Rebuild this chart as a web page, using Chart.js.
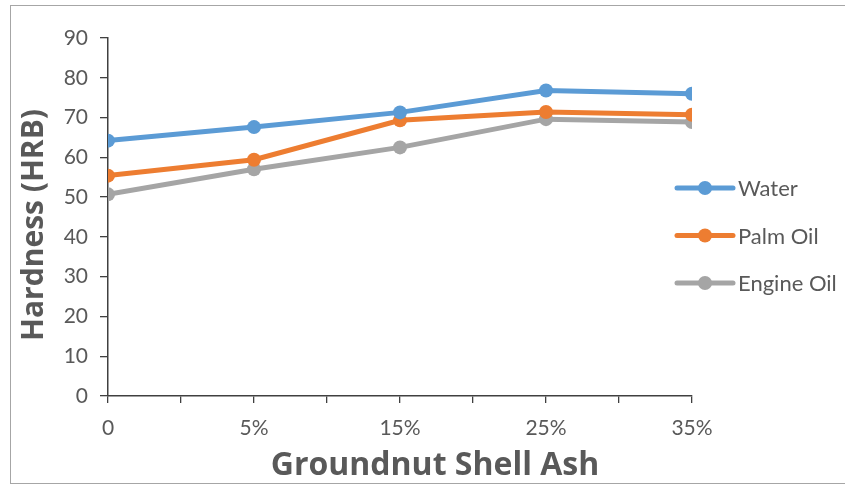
<!DOCTYPE html>
<html>
<head>
<meta charset="utf-8">
<script src="https://cdn.jsdelivr.net/npm/chart.js@4/dist/chart.umd.min.js"></script>
<style>
  html, body { margin: 0; padding: 0; background: #fff; }
  #wrap { position: relative; width: 845px; height: 486px; overflow: hidden; }
  #frame { position: absolute; left: 10px; top: 5px; width: 900px; height: 479px; border: 1px solid #a6a6a6; box-sizing: border-box; }
  canvas { position: absolute; left: 0; top: 0; }
</style>
</head>
<body>
<div id="wrap">
  <div id="frame"></div>
  <canvas id="c" width="845" height="486"></canvas>
</div>
<script>
// Ash content levels along the x axis
const categories = ['0', '5%', '15%', '25%', '35%'];
// Hardness (HRB) for each quench medium
const water     = [64.2, 67.6, 71.3, 76.8, 76.0];
const palmOil   = [55.4, 59.4, 69.3, 71.4, 70.7];
const engineOil = [50.7, 57.0, 62.5, 69.6, 68.9];
const yTicks    = [0, 10, 20, 30, 40, 50, 60, 70, 80, 90];

const seriesNames  = ['Water', 'Palm Oil', 'Engine Oil'];
const seriesValues = [water, palmOil, engineOil];
const seriesColors = ['#5B9BD5', '#ED7D31', '#A5A5A5'];

const xTitle = 'Groundnut Shell Ash';
const yTitle = 'Hardness (HRB)';

const FONT = 'Lato, "Open Sans", sans-serif';
const TITLE_FONT = '"Open Sans", Lato, sans-serif';
const TEXT = '#595959';
const AXIS = '#404040';

const datasets = seriesNames.map((name, i) => ({
  label: name,
  data: seriesValues[i].map((v, k) => ({ x: k, y: v })),
  borderColor: seriesColors[i],
  backgroundColor: seriesColors[i],
  borderWidth: 5,
  pointRadius: 7,
  pointHoverRadius: 7,
  pointBorderWidth: 0,
  tension: 0
}));

// Legend rows (line + marker) on the right, and the two axis titles
const decorations = {
  id: 'decorations',
  afterDraw(chart) {
    const ctx = chart.ctx;
    ctx.save();
    chart.data.datasets.forEach((ds, i) => {
      const y = 188 + i * 47.5;
      const x0 = 677, x1 = 733;
      ctx.strokeStyle = ds.borderColor;
      ctx.lineWidth = 5;
      ctx.lineCap = 'round';
      ctx.beginPath();
      ctx.moveTo(x0, y);
      ctx.lineTo(x1, y);
      ctx.stroke();
      ctx.fillStyle = ds.backgroundColor;
      ctx.beginPath();
      ctx.arc((x0 + x1) / 2, y, 7, 0, Math.PI * 2);
      ctx.fill();
      ctx.fillStyle = TEXT;
      ctx.font = '22px ' + FONT;
      ctx.textBaseline = 'middle';
      ctx.textAlign = 'left';
      ctx.fillText(ds.label, 738, y + 1);
    });

    ctx.fillStyle = TEXT;
    ctx.textAlign = 'center';
    ctx.textBaseline = 'middle';
    ctx.font = 'bold 32px ' + TITLE_FONT;
    ctx.fillText(xTitle, 435, 466);

    ctx.translate(34, 225);
    ctx.rotate(-Math.PI / 2);
    ctx.font = 'bold 30px ' + TITLE_FONT;
    ctx.fillText(yTitle, 0, 0);
    ctx.restore();
  }
};

new Chart(document.getElementById('c'), {
  type: 'line',
  data: { datasets },
  options: {
    responsive: false,
    animation: false,
    events: [],
    layout: { padding: { top: 38, right: 153, left: 0, bottom: 0 } },
    plugins: { legend: { display: false }, tooltip: { enabled: false } },
    scales: {
      x: {
        type: 'linear',
        min: 0,
        max: categories.length - 1,
        afterFit(scale) { scale.height = 90; },
        afterBuildTicks(scale) {
          const t = [];
          for (let v = 0; v <= categories.length - 1; v += 0.5) t.push({ value: v });
          scale.ticks = t;
        },
        ticks: {
          autoSkip: false,
          maxRotation: 0,
          padding: 13,
          color: TEXT,
          font: { family: FONT, size: 21 },
          callback: (v) => Number.isInteger(v) ? categories[v] : ''
        },
        grid: { drawOnChartArea: false, drawTicks: true, tickLength: 7, color: AXIS, lineWidth: 1.3 },
        border: { color: AXIS, width: 1.5 }
      },
      y: {
        min: 0,
        max: 90,
        afterFit(scale) { scale.width = 108; },
        afterBuildTicks(scale) { scale.ticks = yTicks.map(v => ({ value: v })); },
        ticks: {
          padding: 12,
          color: TEXT,
          font: { family: FONT, size: 21 }
        },
        grid: { drawOnChartArea: false, drawTicks: true, tickLength: 8, color: AXIS, lineWidth: 1.3 },
        border: { color: AXIS, width: 1.5 }
      }
    }
  },
  plugins: [decorations]
});
</script>
</body>
</html>
